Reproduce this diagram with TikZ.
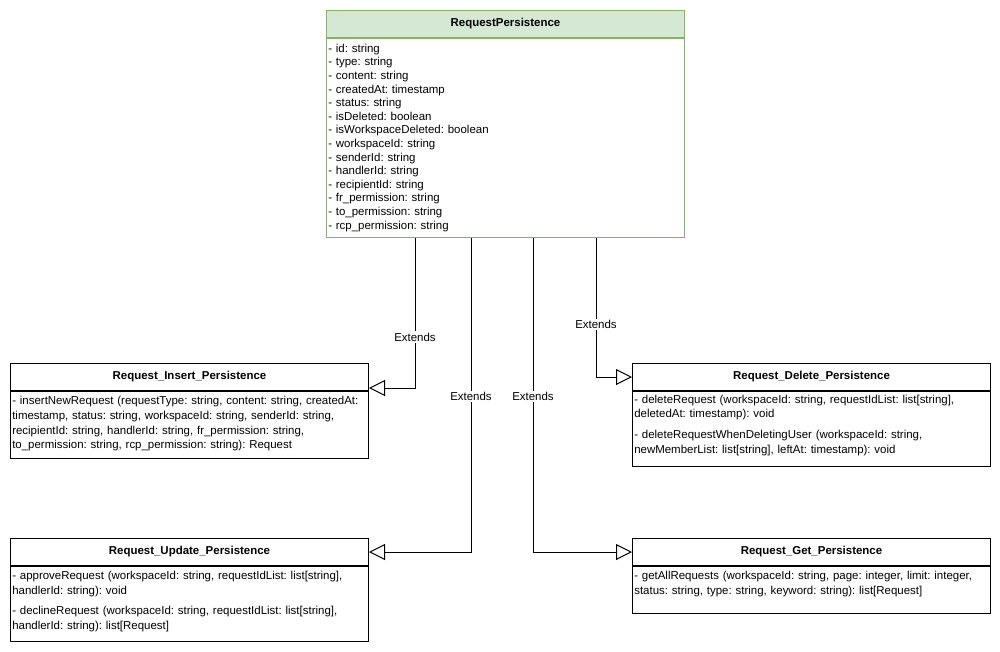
\documentclass[tikz,border=0pt]{standalone}
\usepackage{fontspec}
\setmainfont{Liberation Sans}
\usetikzlibrary{positioning,arrows.meta}
\definecolor{hdrfill}{HTML}{D5E8D4}
\definecolor{hdrline}{HTML}{82B366}

\begin{document}
\frenchspacing
\begin{tikzpicture}[
        x=0.75pt, y=-0.75pt,
        every node/.style={
            font=\fontsize{8.6}{11}\selectfont,
            inner sep=0pt
        },
        head/.style={
            rectangle,
            draw,
            line width=0.75pt,
            anchor=north west,
            minimum width=268.5pt,
            minimum height=20.25pt,
            font=\fontsize{8.6}{11}\selectfont\bfseries
        },
        members/.style={
            rectangle,
            draw,
            line width=0.75pt,
            minimum width=268.5pt
        },
        txt/.style={
            text width=265.5pt,
            align=left
        },
        extends/.style={
            -{Triangle[open, length=12pt, width=12pt, fill=white]},
            line width=0.75pt
        },
        lbl/.style={
            fill=white,
            inner sep=1pt
        }
    ]
        \useasboundingbox (0,0) rectangle (1000,651);

        % Base class
        \node[head, fill=hdrfill, draw=hdrline] (phead) at (326,10) {RequestPersistence};
        \node[members, draw=hdrline, minimum height=149.25pt, below=0pt of phead] (pbody) {};
        \node[txt, font=\fontsize{8.6}{10.2}\selectfont, below right=4.3pt and 1.5pt of pbody.north west] (ptext) {- id: string\\
            - type: string\\
            - content: string\\
            - createdAt: timestamp\\
            - status: string\\
            - isDeleted: boolean\\
            - isWorkspaceDeleted: boolean\\
            - workspaceId: string\\
            - senderId: string\\
            - handlerId: string\\
            - recipientId: string\\
            - fr\_permission: string\\
            - to\_permission: string\\
            - rcp\_permission: string};

        % Left column
        \node[head] (ihead) at (10,363) {Request\_Insert\_Persistence};
        \node[members, minimum height=50.25pt, below=0pt of ihead] (ibody) {};
        \node[txt, below right=4pt and 1.5pt of ibody.north west] (itext) {- insertNewRequest (requestType: string, content: string, createdAt:\\
            timestamp, status: string, workspaceId: string, senderId: string,\\
            recipientId: string, handlerId: string, fr\_permission: string,\\
            to\_permission: string, rcp\_permission: string): Request};

        \node[head] (uhead) at (10,538) {Request\_Update\_Persistence};
        \node[members, minimum height=56.25pt, below=0pt of uhead] (ubody) {};
        \node[txt, below right=4pt and 1.5pt of ubody.north west] (utext) {- approveRequest (workspaceId: string, requestIdList: list[string],\\
            handlerId: string): void\\[4pt]
            - declineRequest (workspaceId: string, requestIdList: list[string],\\
            handlerId: string): list[Request]};

        % Right column
        \node[head] (dhead) at (632,363) {Request\_Delete\_Persistence};
        \node[members, minimum height=56.25pt, below=0pt of dhead] (dbody) {};
        \node[txt, below right=2.6pt and 1.5pt of dbody.north west] (dtext) {- deleteRequest (workspaceId: string, requestIdList: list[string],\\
            deletedAt: timestamp): void\\[4.5pt]
            - deleteRequestWhenDeletingUser (workspaceId: string,\\
            newMemberList: list[string], leftAt: timestamp): void};

        \node[head] (ghead) at (632,538) {Request\_Get\_Persistence};
        \node[members, minimum height=35.25pt, below=0pt of ghead] (gbody) {};
        \node[txt, below right=4pt and 1.5pt of gbody.north west] (gtext) {- getAllRequests (workspaceId: string, page: integer, limit: integer,\\
            status: string, type: string, keyword: string): list[Request]};

        % Inheritance
        \draw[extends] (pbody.south -| 415,0) |- ([yshift=2.25pt]ihead.south east)
            node[lbl, pos=0.33] {Extends};
        \draw[extends] (pbody.south -| 471,0) |- (uhead.east)
            node[lbl, pos=0.253] {Extends};
        \draw[extends] (pbody.south -| 533,0) |- (ghead.west)
            node[lbl, pos=0.253] {Extends};
        \draw[extends] (pbody.south -| 596,0) |- (dhead.west)
            node[lbl, pos=0.312] {Extends};
    \end{tikzpicture}
\end{document}
